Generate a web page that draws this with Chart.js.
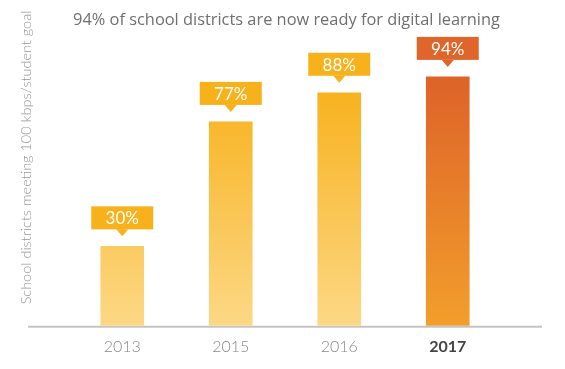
<!DOCTYPE html>
<html>
<head>
<meta charset="utf-8">
<script src="https://cdn.jsdelivr.net/npm/chart.js@4.4.1/dist/chart.umd.min.js"></script>
<style>
  html, body { margin: 0; padding: 0; background: #ffffff; }
  #wrap { width: 565px; height: 369px; position: relative; }
</style>
</head>
<body>
<div id="wrap"><canvas id="c" width="565" height="369"></canvas></div>
<script>
const categories = ['2013', '2015', '2016', '2017'];
const values = [30, 77, 88, 94];
const valueLabels = ['30%', '77%', '88%', '94%'];
const titleText = '94% of school districts are now ready for digital learning';
const yAxisTitle = 'School districts meeting 100 kbps/student goal';
const highlightIndex = 3;

function fitFont(ctx, text, weight, family, targetWidth) {
  ctx.font = weight + ' 20px ' + family;
  const w = ctx.measureText(text).width;
  return 20 * targetWidth / w;
}

const decorPlugin = {
  id: 'decor',
  beforeDatasetsDraw(chart) {
    const c = chart.ctx;
    const y0 = chart.scales.y.getPixelForValue(0);
    c.save();
    c.strokeStyle = '#c4c4c4';
    c.lineWidth = 2;
    c.beginPath();
    c.moveTo(28, y0 + 1);
    c.lineTo(542, y0 + 1);
    c.stroke();
    c.restore();
  },
  afterDatasetsDraw(chart) {
    const c = chart.ctx;
    const meta = chart.getDatasetMeta(0);
    c.save();
    meta.data.forEach((bar, i) => {
      const x = bar.x, top = bar.y;
      const color = i === highlightIndex ? '#df652a' : '#f7b11a';
      const bw = 62, bh = 23;
      const bBottom = top - 17;
      c.fillStyle = color;
      c.fillRect(x - bw / 2, bBottom - bh, bw, bh);
      c.beginPath();
      c.moveTo(x - 6, bBottom);
      c.lineTo(x + 6, bBottom);
      c.lineTo(x, bBottom + 7);
      c.closePath();
      c.fill();
      c.fillStyle = '#ffffff';
      c.font = 'normal 17px Lato';
      c.textAlign = 'center';
      c.textBaseline = 'middle';
      c.fillText(valueLabels[i], x, bBottom - bh / 2 + 1);
    });
    // Title
    const ts = fitFont(c, titleText, 'normal', '"Open Sans"', 427);
    c.font = 'normal ' + ts + 'px "Open Sans"';
    c.fillStyle = '#6f6f6f';
    c.textAlign = 'center';
    c.textBaseline = 'alphabetic';
    c.fillText(titleText, 286.5, 25);
    // Y axis title
    const ys = fitFont(c, yAxisTitle, '300', 'Lato', 294);
    c.translate(26.5, 157.5);
    c.rotate(-Math.PI / 2);
    c.font = '300 ' + ys + 'px Lato';
    c.fillStyle = '#959595';
    c.textAlign = 'center';
    c.textBaseline = 'middle';
    c.fillText(yAxisTitle, 0, 0);
    c.restore();
  }
};

function barColor(context) {
  const chart = context.chart;
  const area = chart.chartArea;
  if (!area) return '#f9c24a';
  const g = chart.ctx.createLinearGradient(0, area.top, 0, area.bottom);
  if (context.dataIndex === highlightIndex) {
    g.addColorStop(0, '#dc5f28');
    g.addColorStop(1, '#f39e2c');
  } else {
    g.addColorStop(0, '#f7ad12');
    g.addColorStop(1, '#fcd885');
  }
  return g;
}

new Chart(document.getElementById('c'), {
  type: 'bar',
  data: {
    labels: categories,
    datasets: [{
      data: values,
      backgroundColor: barColor,
      borderWidth: 0,
      barThickness: 43
    }]
  },
  options: {
    responsive: false,
    animation: false,
    devicePixelRatio: 1,
    layout: { padding: { left: 68, right: 63, top: 61, bottom: 10 } },
    plugins: {
      legend: { display: false },
      title: { display: false },
      tooltip: { enabled: false }
    },
    scales: {
      x: {
        grid: { display: false },
        border: { display: false },
        ticks: {
          padding: 3,
          font: (ctx) => ({ family: 'Lato', size: 16, weight: ctx.index === highlightIndex ? 'bold' : '300' }),
          color: (ctx) => ctx.index === highlightIndex ? '#444444' : '#888888'
        }
      },
      y: {
        display: false,
        min: 0,
        max: 100
      }
    }
  },
  plugins: [decorPlugin]
});
</script>
</body>
</html>
